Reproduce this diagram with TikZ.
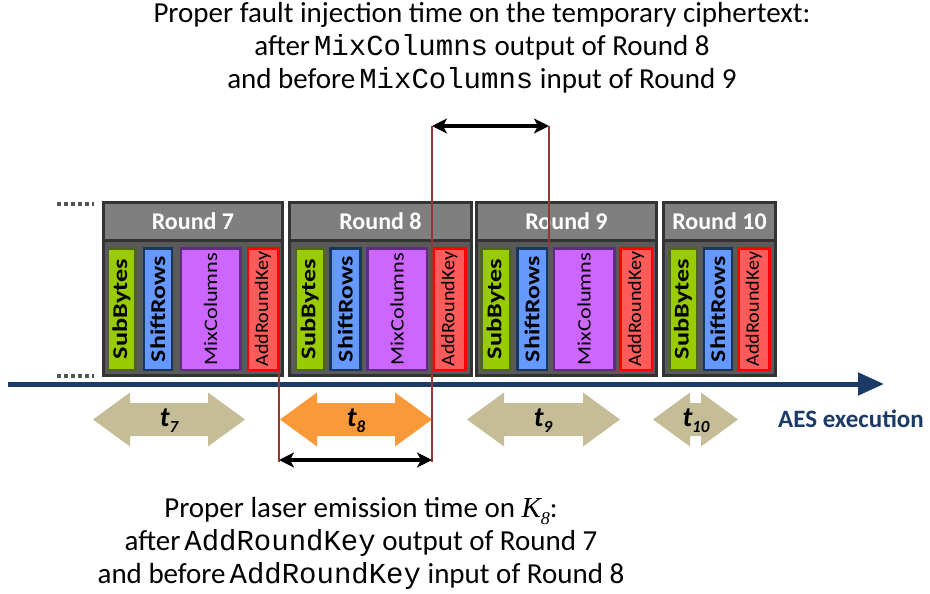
\documentclass[tikz,border=0pt]{standalone}
\usepackage{fontspec}
\setmainfont{Carlito}
\setmonofont{Liberation Mono}
\newfontfamily\tmsfont{Liberation Serif}
\usetikzlibrary{arrows.meta}
\definecolor{navy}{HTML}{1B3A66}
\definecolor{rbord}{HTML}{333333}
\definecolor{rhead}{HTML}{7F7F7F}
\definecolor{rbody}{HTML}{5A5A5A}
\definecolor{sbfill}{HTML}{99CC00}
\definecolor{sbline}{HTML}{4F6228}
\definecolor{srfill}{HTML}{6699FF}
\definecolor{srline}{HTML}{17375E}
\definecolor{mcfill}{HTML}{CC66FF}
\definecolor{mcline}{HTML}{5F2C82}
\definecolor{akfill}{HTML}{FF5B5B}
\definecolor{akline}{HTML}{FF0000}
\definecolor{redln}{HTML}{953735}
\definecolor{tanc}{HTML}{C4BD97}
\definecolor{orng}{HTML}{F9993A}
\definecolor{dotc}{HTML}{555555}
\newcommand{\opbx}[5]{\node[#2, minimum height={#4-#3-2.5}] (#1) at ({(#3+#4)/2},309) {#5};}
\newcommand{\tarr}[3]{\fill[#3] (#1,419.5) -- ({#1+37},392.5) -- ({#1+37},403) -- ({#2-37},403) -- ({#2-37},392.5) -- (#2,419.5) -- ({#2-37},446.5) -- ({#2-37},436) -- ({#1+37},436) -- ({#1+37},446.5) -- cycle;}
\begin{document}
\begin{tikzpicture}[x=1pt,y=-1pt,
  roundbody/.style={draw=rbord, fill=rbody, line width=3pt, inner sep=0pt, minimum height=173},
  roundhead/.style={draw=rbord, fill=rhead, line width=3pt, inner sep=0pt, minimum height=38,
     text=white, font=\fontsize{24}{24}\selectfont\bfseries},
  opbase/.style={line width=2.5pt, inner sep=0pt, minimum width=121.5, rotate=90, text=black},
  sbbox/.style={opbase, draw=sbline, fill=sbfill, font=\fontsize{21}{21}\selectfont\bfseries},
  srbox/.style={opbase, draw=srline, fill=srfill, font=\fontsize{21}{21}\selectfont\bfseries},
  mcbox/.style={opbase, draw=mcline, fill=mcfill, font=\fontsize{19}{19}\selectfont},
  akbox/.style={opbase, draw=akline, fill=akfill, font=\fontsize{19}{19}\selectfont},
  tlab/.style={inner sep=0pt, font=\fontsize{28}{28}\selectfont\bfseries\itshape},
  redline/.style={draw=redln, line width=1.6pt},
  blkarr/.style={draw=black, line width=3.5pt, {Stealth[length=15pt,width=15pt,inset=4pt]}-{Stealth[length=15pt,width=15pt,inset=4pt]}},
  dotline/.style={draw=dotc, line width=3.5pt, dash pattern=on 3.5pt off 3.5pt},
  bigtext/.style={inner sep=0pt, align=center, font=\fontsize{29}{33}\selectfont}
]
\useasboundingbox (0,0) rectangle (930,594);

% rounds
\node[roundbody, minimum width=179] (r7) at (193,289) {};
\node[roundbody, minimum width=182] (r8) at (380.5,289) {};
\node[roundbody, minimum width=180] (r9) at (566.5,289) {};
\node[roundbody, minimum width=112] (r10) at (719.5,289) {};
\node[roundhead, minimum width=179] (h7) at (193,221.5) {Round 7};
\node[roundhead, minimum width=182] (h8) at (380.5,221.5) {Round 8};
\node[roundhead, minimum width=180] (h9) at (566.5,221.5) {Round 9};
\node[roundhead, minimum width=112] (h10) at (719.5,221.5) {Round 10};

% operations
\opbx{r7sb}{sbbox}{106.5}{136.5}{\scalebox{1.25}[1]{SubBytes}}
\opbx{r7sr}{srbox}{142.5}{173}{\scalebox{1.23}[1]{ShiftRows}}
\opbx{r7mc}{mcbox}{179.5}{241.5}{\scalebox{1.17}[1]{MixColumns}}
\opbx{r7ak}{akbox}{246.5}{279.5}{\scalebox{1.06}[1]{AddRoundKey}}
\opbx{r8sb}{sbbox}{294.5}{325}{\scalebox{1.25}[1]{SubBytes}}
\opbx{r8sr}{srbox}{329}{361.5}{\scalebox{1.23}[1]{ShiftRows}}
\opbx{r8mc}{mcbox}{366}{428}{\scalebox{1.17}[1]{MixColumns}}
\opbx{r8ak}{akbox}{432}{466.5}{\scalebox{1.06}[1]{AddRoundKey}}
\opbx{r9sb}{sbbox}{480}{511.5}{\scalebox{1.25}[1]{SubBytes}}
\opbx{r9sr}{srbox}{516}{548}{\scalebox{1.23}[1]{ShiftRows}}
\opbx{r9mc}{mcbox}{552.5}{615.5}{\scalebox{1.17}[1]{MixColumns}}
\opbx{r9ak}{akbox}{619}{653}{\scalebox{1.06}[1]{AddRoundKey}}
\opbx{r10sb}{sbbox}{668}{698}{\scalebox{1.25}[1]{SubBytes}}
\opbx{r10sr}{srbox}{702.5}{733}{\scalebox{1.23}[1]{ShiftRows}}
\opbx{r10ak}{akbox}{737}{770.5}{\scalebox{1.06}[1]{AddRoundKey}}

% dots
\coordinate (d1a) at (57,204); \coordinate (d1b) at (94,204);
\coordinate (d2a) at (57,376); \coordinate (d2b) at (94,376);
\draw[dotline] (d1a) -- (d1b);
\draw[dotline] (d2a) -- (d2b);

% main time axis
\coordinate (axs) at (8,384); \coordinate (axe) at (884,384);
\draw[navy, line width=5pt, -{Triangle[length=26pt,width=22pt]}] (axs) -- (axe);
\node[inner sep=0pt, text=navy, font=\fontsize{25}{25}\selectfont\bfseries] (aes) at (851,419) {AES execution};

% time arrows
\tarr{93}{245}{tanc}
\tarr{280}{432}{orng}
\tarr{467}{620}{tanc}
\tarr{653}{738}{tanc}
\node[tlab] (t7) at (169,421) {t\raisebox{-0.22em}{\fontsize{17}{17}\selectfont 7}};
\node[tlab] (t8) at (356,421) {t\raisebox{-0.22em}{\fontsize{17}{17}\selectfont 8}};
\node[tlab] (t9) at (543,421) {t\raisebox{-0.22em}{\fontsize{17}{17}\selectfont 9}};
\node[tlab] (t10) at (696,421) {t\raisebox{-0.22em}{\fontsize{17}{17}\selectfont 10}};

% red marker lines
\coordinate (rl1t) at (279,372); \coordinate (rl1b) at (279,462);
\coordinate (rl2t) at (432,126); \coordinate (rl2b) at (432,462);
\coordinate (rl3t) at (549,126); \coordinate (rl3b) at (549,247);
\draw[redline] (rl1t) -- (rl1b);
\draw[redline] (rl2t) -- (rl2b);
\draw[redline] (rl3t) -- (rl3b);

% black span arrows
\coordinate (ba1) at (279,460); \coordinate (ba2) at (432,460);
\draw[blkarr] (rl2t) -- (rl3t);
\draw[blkarr] (ba1) -- (ba2);

% texts
\node[bigtext, anchor=north] (title) at (482,2) {Proper fault injection time on the temporary ciphertext:\\
after\hspace{4pt}\texttt{MixColumns} output of Round 8\\
and before\hspace{4pt}\texttt{MixColumns} input of Round 9};
\node[bigtext, anchor=north] (bottom) at (361,497) {Proper laser emission time on {\tmsfont\itshape K\raisebox{-0.25em}{\fontsize{18}{18}\selectfont 8}}:\\
after\hspace{4pt}\texttt{AddRoundKey} output of Round 7\\
and before\hspace{4pt}\texttt{AddRoundKey} input of Round 8};
\end{tikzpicture}
\end{document}
